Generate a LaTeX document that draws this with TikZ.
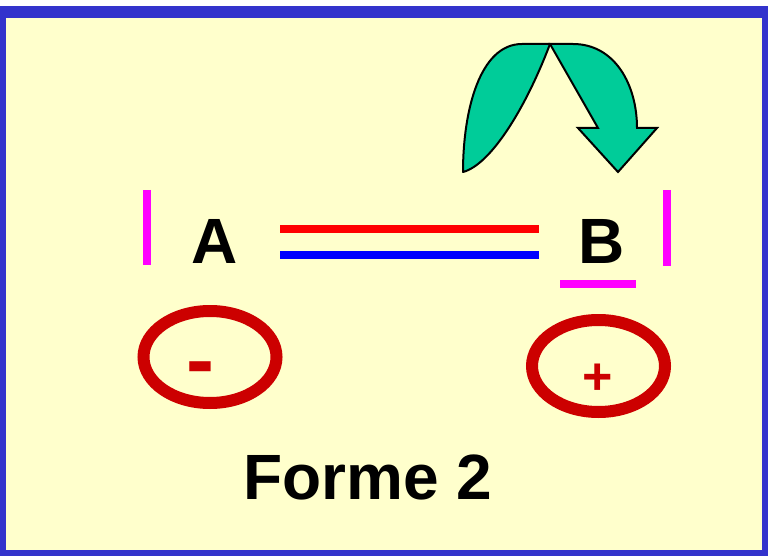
\documentclass[tikz,border=0pt]{standalone}
\usepackage{fontspec}
\setmainfont{Liberation Sans}
\usepackage{xcolor}
\usepackage{tikz}
\usetikzlibrary{positioning}

\definecolor{framebl}{HTML}{3333CC}
\definecolor{paper}{HTML}{FFFFCC}
\definecolor{charge}{HTML}{CC0000}
\definecolor{flecheg}{HTML}{00CC99}
\definecolor{rose}{HTML}{FF00FF}
\definecolor{rouge}{HTML}{FF0000}
\definecolor{bleu}{HTML}{0000FF}

\begin{document}
\begin{tikzpicture}[x=1pt, y=-1pt,
  atom/.style={font=\fontsize{64}{70}\selectfont\bfseries, inner sep=0pt, anchor=base},
  bar/.style={rose, line width=8pt},
  bond/.style={line width=8pt},
  charged/.style={draw=charge, line width=12pt}]
  \useasboundingbox (0,0) rectangle (768,556);
  \fill[framebl] (0,6) rectangle (768,556);
  \fill[paper] (6,18) rectangle (762,550);
  % atomes
  \node[atom] (A) at (215,263) {A};
  \node[atom] (B) at (602,263) {B};
  \draw[bond, rouge] (280,229) -- (539,229);
  \draw[bond, bleu] (280,255) -- (539,255);
  \draw[bar] (147,190) -- (147,265);
  \draw[bar] (667,190) -- (667,266);
  \draw[bar] (560,284) -- (636,284);
  % charges
  \draw[charged] (210,357) ellipse (66.5 and 46);
  \draw[charged] (598.5,366) ellipse (66.5 and 46);
  \node[font=\fontsize{84}{90}\selectfont\bfseries, text=charge, inner sep=0pt] (moins) at (200.5,375) {-};
  \node[font=\fontsize{52}{60}\selectfont\bfseries, text=charge, inner sep=0pt] (plus) at (598,379.5) {+};
  % fleche
  \draw[fill=flecheg, line width=2pt, line join=round]
    (550,44) -- (522,44) .. controls (480,44) and (463,110) .. (463,172)
    .. controls (490,165) and (525,110) .. (550,44) -- cycle;
  \draw[fill=flecheg, line width=2pt, line join=miter]
    (550,44) -- (573,44) .. controls (615,44) and (637,85) .. (637,128)
    -- (657,128) -- (618,172) -- (578,128) -- (598,128) -- cycle;
  \node[font=\fontsize{64}{70}\selectfont\bfseries, inner sep=0pt, anchor=base west] (titre) at (243,499) {Forme 2};
\end{tikzpicture}
\end{document}
